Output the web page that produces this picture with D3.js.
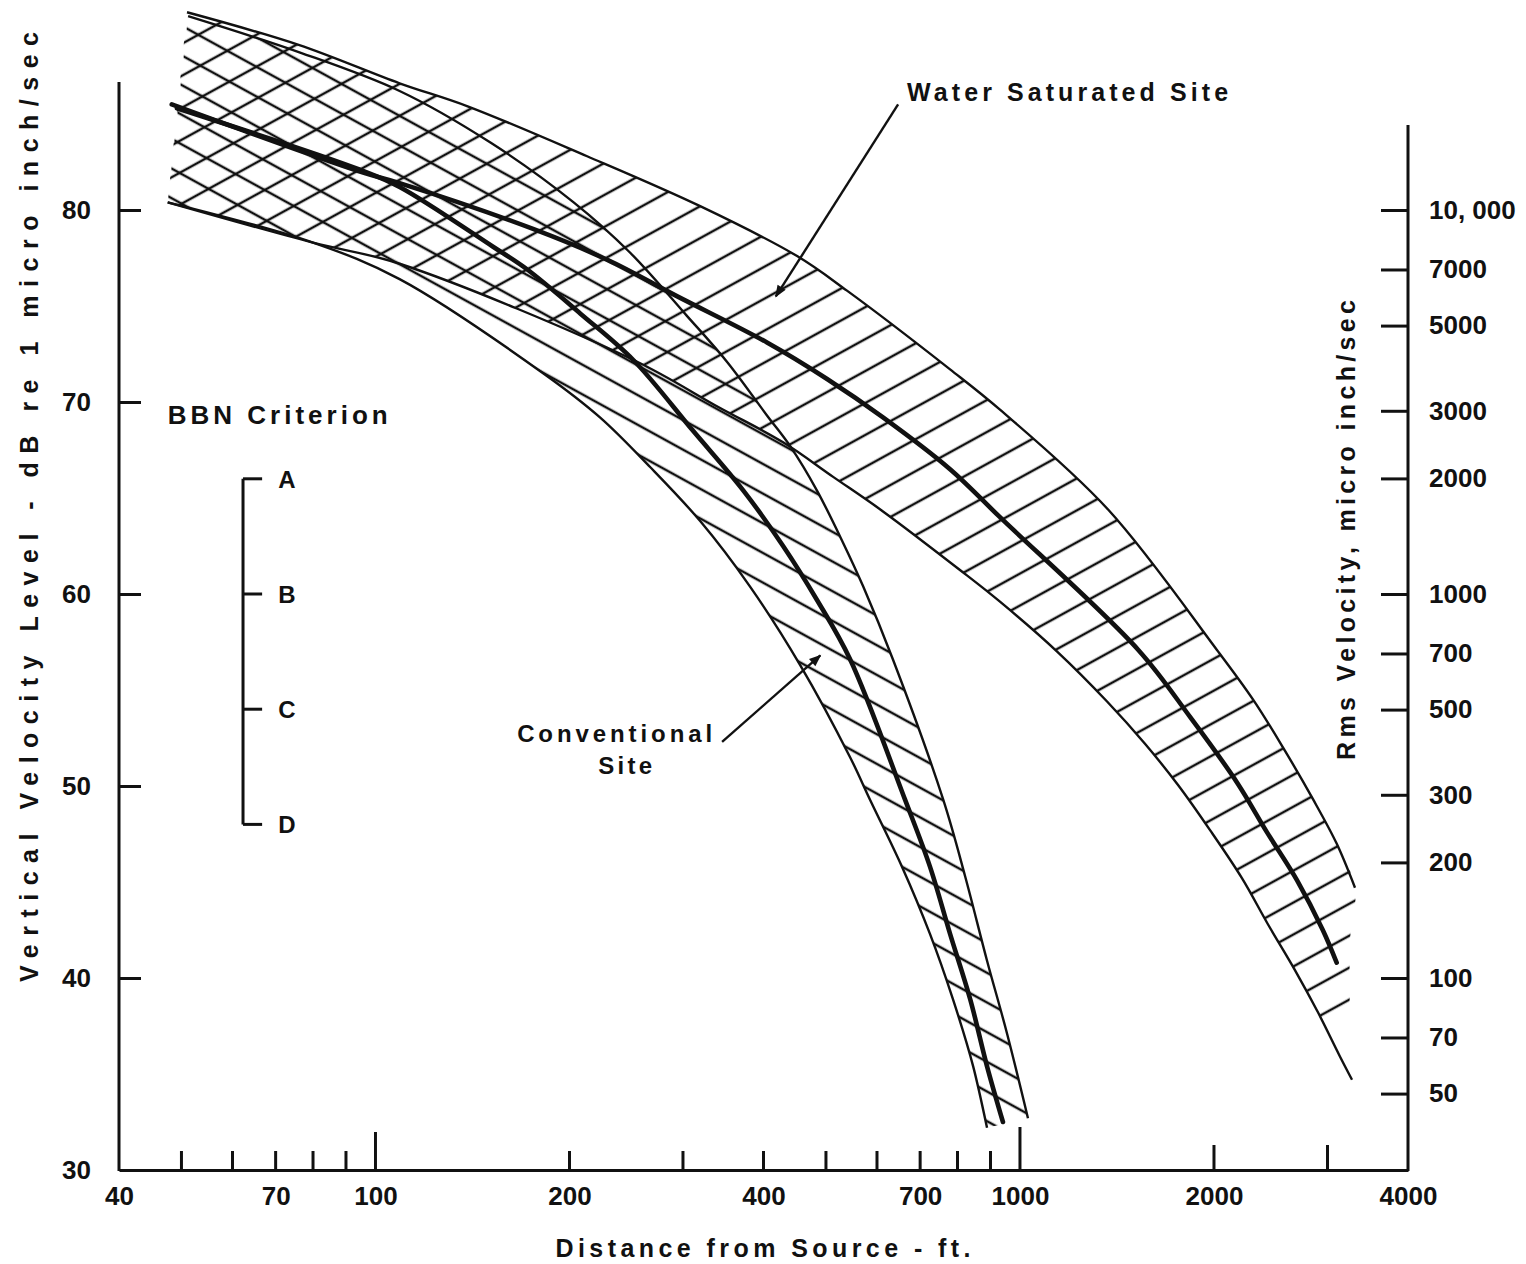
<!DOCTYPE html>
<html>
<head>
<meta charset="utf-8">
<script src="https://cdn.jsdelivr.net/npm/d3@7"></script>
<style>
  html, body { margin: 0; padding: 0; background: #fff; }
  svg { display: block; }
  text { font-family: "Liberation Sans", Arial, sans-serif; font-weight: bold; fill: #111; }
</style>
</head>
<body>
<svg id="chart" width="1526" height="1264"></svg>
<script>
// values: distance in ft, level in dB re 1 micro inch/sec

// water saturated site band
var waterUpperFt  = [51, 76, 109, 139, 213, 319, 451, 539, 779, 931, 1370, 2020, 2300, 2560, 2850, 3100, 3310];
var waterUpperDb  = [90.3, 88.6, 86.6, 85.4, 82.8, 80.2, 77.6, 75.8, 71.7, 69.6, 64.4, 57.1, 54.5, 52.0, 49.3, 47.0, 44.7];
var waterCenterFt = [48.3, 94.6, 109, 176, 229, 294, 405, 502, 613, 779, 931, 1525, 1836, 2170, 2416, 2690, 2950, 3100];
var waterCenterDb = [85.5, 82.0, 81.4, 79.0, 77.4, 75.5, 73.1, 71.2, 69.2, 66.5, 64.0, 57.1, 53.6, 50.2, 47.6, 45.1, 42.5, 40.8];
var waterLowerFt  = [47.6, 80, 109, 251, 342, 429, 513, 613, 807, 931, 1142, 1365, 1563, 1759, 1972, 2210, 2425, 2672, 2901, 3138, 3275];
var waterLowerDb  = [80.4, 78.3, 77.2, 72.2, 69.7, 67.9, 66.1, 64.3, 61.25, 59.6, 57.0, 54.4, 52.2, 50.05, 47.7, 45.2, 42.8, 40.4, 38.2, 35.9, 34.7];
// hatching keeps going a little past the end of the upper line
var waterHatchTailFt = [3251, 3194, 3027];
var waterHatchTailDb = [42.0, 37.4, 36.9];

// conventional site band
var convUpperFt  = [51.2, 76.4, 109, 151, 203, 248, 304, 351, 405, 440, 484, 531, 571, 635, 760, 822, 889, 955, 1029];
var convUpperDb  = [90.1, 88.2, 86.2, 83.5, 80.4, 77.8, 74.5, 72.1, 69.3, 67.7, 65.4, 62.7, 60.4, 56.6, 49.3, 45.3, 40.9, 37.1, 32.7];
var convCenterFt = [49.2, 94.6, 109, 152, 172, 208, 251, 311, 372, 429, 484, 545, 663, 725, 779, 837, 889, 941];
var convCenterDb = [85.3, 82.1, 81.2, 78.1, 76.9, 74.6, 72.2, 68.5, 65.4, 62.5, 59.7, 56.6, 49.3, 45.8, 42.3, 38.9, 35.4, 32.5];
var convLowerFt  = [47.6, 80, 109, 182, 223, 267, 319, 381, 456, 545, 585, 656, 725, 787, 846, 889];
var convLowerDb  = [80.4, 78.3, 76.4, 71.5, 69.2, 66.6, 63.8, 60.4, 56.3, 51.5, 49.3, 45.8, 42.3, 38.9, 35.4, 32.2];

// BBN criterion levels
var bbnGrades = ["A", "B", "C", "D"];
var bbnLevels = [66, 60, 54, 48];

// axes
var xTickLabels = [40, 70, 100, 200, 400, 700, 1000, 2000, 4000];
var xTickMarks  = [50, 60, 70, 80, 90, 100, 200, 300, 400, 500, 600, 700, 800, 900, 1000, 2000, 3000];
var yTickLabels = [30, 40, 50, 60, 70, 80];
var rmsTicks    = [10000, 7000, 5000, 3000, 2000, 1000, 700, 500, 300, 200, 100, 70, 50];

var svg = d3.select("#chart");
var ink = "#111";

var x = d3.scaleLog().domain([40, 4000]).range([119, 1408]);
var y = d3.scaleLinear().domain([30, 80]).range([1170, 210]);
var yRms = d3.scaleLog().domain([Math.pow(10, 30 / 20), 10000]).range([1170, 210]);

function pts(ft, db) {
    return ft.map(function(f, i) { return [x(f), y(db[i])]; });
}
var curve = d3.line().curve(d3.curveCatmullRom.alpha(0.5));

function bandPath(upper, lower) {
    var rev = lower.slice().reverse();
    return curve(upper) + curve(rev).replace(/^M/, "L") + "Z";
}

// hatch patterns
var defs = svg.append("defs");
function hatch(id, angle, gap) {
    defs.append("pattern")
        .attr("id", id)
        .attr("patternUnits", "userSpaceOnUse")
        .attr("width", 80).attr("height", gap)
        .attr("patternTransform", "rotate(" + angle + ")")
        .append("rect")
        .attr("x", 0).attr("y", gap / 2 - 1.25)
        .attr("width", 80).attr("height", 2.5)
        .attr("fill", ink);
}
hatch("hatchWater", -28.8, 28);
hatch("hatchConv", 28.8, 26);

defs.append("marker")
    .attr("id", "arrow")
    .attr("viewBox", "0 0 10 10")
    .attr("refX", 9).attr("refY", 5)
    .attr("markerWidth", 14).attr("markerHeight", 12)
    .attr("markerUnits", "userSpaceOnUse")
    .attr("orient", "auto")
    .append("path").attr("d", "M0,1 L10,5 L0,9 Z").attr("fill", ink);

// bands
var convUpper = pts(convUpperFt, convUpperDb),
    convLower = pts(convLowerFt, convLowerDb),
    convCenter = pts(convCenterFt, convCenterDb);
var waterUpper = pts(waterUpperFt, waterUpperDb),
    waterLower = pts(waterLowerFt, waterLowerDb),
    waterCenter = pts(waterCenterFt, waterCenterDb),
    waterTail = pts(waterHatchTailFt, waterHatchTailDb);
var waterLowerHatch = waterLower.filter(function(p, i) { return waterLowerFt[i] < 3000; });

svg.append("path").attr("d", bandPath(convUpper, convLower)).attr("fill", "url(#hatchConv)");
svg.append("path").attr("d", bandPath(waterUpper.concat(waterTail), waterLowerHatch)).attr("fill", "url(#hatchWater)");

[convUpper, convLower, waterUpper, waterLower].forEach(function(p) {
    svg.append("path").attr("d", curve(p))
        .attr("fill", "none").attr("stroke", ink).attr("stroke-width", 2.4);
});
[convCenter, waterCenter].forEach(function(p) {
    svg.append("path").attr("d", curve(p))
        .attr("fill", "none").attr("stroke", ink).attr("stroke-width", 4.6)
        .attr("stroke-linecap", "round");
});

// bottom axis
var gx = svg.append("g")
    .attr("transform", "translate(0,1170)")
    .call(d3.axisBottom(x).tickValues(xTickLabels).tickFormat(d3.format("d")).tickSize(0).tickPadding(17));
gx.select(".domain").attr("stroke", ink).attr("stroke-width", 3);
gx.selectAll("text").attr("font-size", 26).attr("font-family", null).attr("fill", ink);

function tickLen(d) {
    if (d === 100) return 38;
    if (d === 1000) return 43;
    if (d >= 2000) return 25;
    return 19;
}
svg.selectAll(".xmark").data(xTickMarks).join("line")
    .attr("class", "xmark")
    .attr("x1", function(d) { return x(d); })
    .attr("x2", function(d) { return x(d); })
    .attr("y1", 1170)
    .attr("y2", function(d) { return 1170 - tickLen(d); })
    .attr("stroke", ink).attr("stroke-width", 3);

// left axis
var gy = svg.append("g")
    .attr("transform", "translate(119,0)")
    .call(d3.axisLeft(y).tickValues(yTickLabels).tickSize(-22).tickPadding(28));
gy.select(".domain").remove();
gy.selectAll(".tick line").attr("stroke", ink).attr("stroke-width", 3)
    .filter(function(d) { return d === 30; }).remove();
gy.selectAll("text").attr("font-size", 26).attr("font-family", null).attr("fill", ink);
svg.append("line").attr("x1", 119).attr("x2", 119).attr("y1", 1171).attr("y2", 82)
    .attr("stroke", ink).attr("stroke-width", 3);

// right axis (rms velocity)
var gr = svg.append("g")
    .attr("transform", "translate(1408,0)")
    .call(d3.axisRight(yRms).tickValues(rmsTicks).tickSize(-27).tickPadding(21)
        .tickFormat(function(d) { return d === 10000 ? "10, 000" : d; }));
gr.select(".domain").remove();
gr.selectAll(".tick line").attr("stroke", ink).attr("stroke-width", 3);
gr.selectAll("text").attr("font-size", 26).attr("font-family", null).attr("fill", ink);
svg.append("line").attr("x1", 1408).attr("x2", 1408).attr("y1", 1171).attr("y2", 125)
    .attr("stroke", ink).attr("stroke-width", 3);

// axis titles
svg.append("text")
    .attr("x", 763).attr("y", 1257)
    .attr("text-anchor", "middle").attr("font-size", 25)
    .attr("textLength", 415).attr("lengthAdjust", "spacing")
    .text("Distance from Source - ft.");
svg.append("text")
    .attr("transform", "translate(38,507) rotate(-90)")
    .attr("text-anchor", "middle").attr("font-size", 25)
    .attr("textLength", 950).attr("lengthAdjust", "spacing")
    .text("Vertical Velocity Level - dB re 1 micro inch/sec");
svg.append("text")
    .attr("transform", "translate(1355,530) rotate(-90)")
    .attr("text-anchor", "middle").attr("font-size", 25)
    .attr("textLength", 460).attr("lengthAdjust", "spacing")
    .text("Rms Velocity,  micro inch/sec");

// BBN criterion bracket
svg.append("text")
    .attr("x", x(47.6)).attr("y", y(68.85))
    .attr("font-size", 26)
    .attr("textLength", 220).attr("lengthAdjust", "spacing")
    .text("BBN Criterion");
svg.append("line")
    .attr("x1", x(62.3)).attr("x2", x(62.3))
    .attr("y1", y(d3.max(bbnLevels))).attr("y2", y(d3.min(bbnLevels)))
    .attr("stroke", ink).attr("stroke-width", 3);
var bbn = svg.selectAll(".bbn").data(bbnLevels).join("g").attr("class", "bbn");
bbn.append("line")
    .attr("x1", x(62.3)).attr("x2", x(66.7))
    .attr("y1", function(d) { return y(d); }).attr("y2", function(d) { return y(d); })
    .attr("stroke", ink).attr("stroke-width", 3);
bbn.append("text")
    .attr("x", x(72.9)).attr("y", function(d) { return y(d) + 9; })
    .attr("text-anchor", "middle").attr("font-size", 24)
    .text(function(d, i) { return bbnGrades[i]; });

// callouts
svg.append("text")
    .attr("x", x(668)).attr("y", y(85.7))
    .attr("font-size", 25)
    .attr("textLength", 321).attr("lengthAdjust", "spacing")
    .text("Water Saturated Site");
svg.append("line")
    .attr("x1", x(647)).attr("y1", y(85.5))
    .attr("x2", x(418)).attr("y2", y(75.5))
    .attr("stroke", ink).attr("stroke-width", 2.4)
    .attr("marker-end", "url(#arrow)");

svg.append("text")
    .attr("x", x(235)).attr("y", y(52.3))
    .attr("text-anchor", "middle").attr("font-size", 24)
    .attr("textLength", 195).attr("lengthAdjust", "spacing")
    .text("Conventional");
svg.append("text")
    .attr("x", x(244)).attr("y", y(50.6))
    .attr("text-anchor", "middle").attr("font-size", 24)
    .attr("textLength", 54).attr("lengthAdjust", "spacing")
    .text("Site");
svg.append("line")
    .attr("x1", x(345)).attr("y1", y(52.3))
    .attr("x2", x(490)).attr("y2", y(56.8))
    .attr("stroke", ink).attr("stroke-width", 2.4)
    .attr("marker-end", "url(#arrow)");
</script>
</body>
</html>
